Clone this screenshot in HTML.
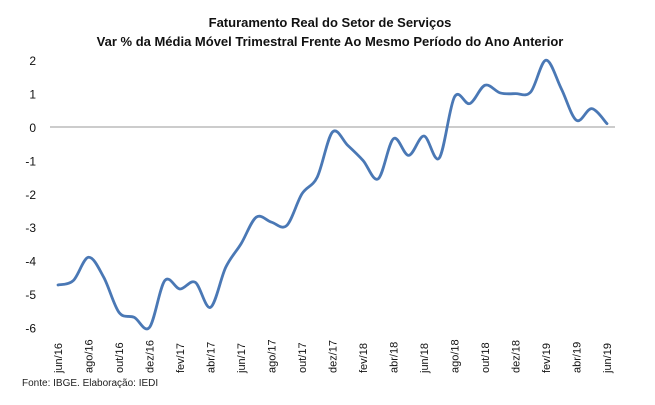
<!DOCTYPE html>
<html><head><meta charset="utf-8">
<style>
html,body{margin:0;padding:0;background:#fff;}
body{width:655px;height:400px;overflow:hidden;font-family:"Liberation Sans",sans-serif;}
</style></head>
<body>
<svg id="chart" width="655" height="400" xmlns="http://www.w3.org/2000/svg" font-family="Liberation Sans, sans-serif">
<text x="330" y="27" text-anchor="middle" font-size="13" font-weight="bold" fill="#111">Faturamento Real do Setor de Serviços</text>
<text x="330" y="46" text-anchor="middle" font-size="13" font-weight="bold" fill="#111">Var % da Média Móvel Trimestral Frente Ao Mesmo Período do Ano Anterior</text>
<text x="22" y="386" font-size="10" fill="#222">Fonte: IBGE. Elaboração: IEDI</text>
<g id="yaxis"></g>
<g id="xaxis"></g>
<g id="plot"></g>
</svg>
<script>
const categories = ["jun/16","jul/16","ago/16","set/16","out/16","nov/16","dez/16","jan/17","fev/17","mar/17","abr/17","mai/17","jun/17","jul/17","ago/17","set/17","out/17","nov/17","dez/17","jan/18","fev/18","mar/18","abr/18","mai/18","jun/18","jul/18","ago/18","set/18","out/18","nov/18","dez/18","jan/19","fev/19","mar/19","abr/19","mai/19","jun/19"];
const values = [-4.73,-4.6,-3.9,-4.5,-5.55,-5.7,-6.0,-4.6,-4.85,-4.65,-5.4,-4.2,-3.5,-2.7,-2.85,-2.95,-2.0,-1.5,-0.15,-0.55,-1.0,-1.55,-0.35,-0.85,-0.27,-0.93,0.9,0.7,1.25,1.02,1.0,1.05,2.0,1.15,0.2,0.55,0.1];
const yTicks = [2,1,0,-1,-2,-3,-4,-5,-6];

const NS="http://www.w3.org/2000/svg";
const x0=58, x1=607, yZero=127, yUnit=33.4;
function xScale(i){return x0+(x1-x0)*i/(categories.length-1);}
function yScale(v){return yZero-v*yUnit;}
const yaxis=document.getElementById('yaxis'), xaxis=document.getElementById('xaxis'), plot=document.getElementById('plot');

yTicks.forEach(t=>{
  const tx=document.createElementNS(NS,'text');
  
  
  tx.setAttribute('x',36);tx.setAttribute('y',yScale(t)+5);
  tx.setAttribute('text-anchor','end');tx.setAttribute('font-size','12');tx.setAttribute('fill','#111');
  tx.textContent=t;yaxis.appendChild(tx);
});
const zl=document.createElementNS(NS,'line');


zl.setAttribute('x1',50);zl.setAttribute('x2',615);zl.setAttribute('y1',yScale(0));zl.setAttribute('y2',yScale(0));
zl.setAttribute('stroke','#999');zl.setAttribute('stroke-width','1');
plot.appendChild(zl);

categories.forEach((c,i)=>{
  if(i%2) return;
  const tx=document.createElementNS(NS,'text');
  
  
  const x=xScale(i)+4;
  tx.setAttribute('x',x);tx.setAttribute('y',373);
  tx.setAttribute('transform','rotate(-90 '+x+' 373)');
  tx.setAttribute('font-size','11');tx.setAttribute('fill','#111');
  tx.textContent=c;xaxis.appendChild(tx);
});

const pts=values.map((v,i)=>[xScale(i),yScale(v)]);
let d='M'+pts[0][0]+','+pts[0][1];
for(let i=0;i<pts.length-1;i++){
  const p0=pts[Math.max(0,i-1)],p1=pts[i],p2=pts[i+1],p3=pts[Math.min(pts.length-1,i+2)];
  const c1=[p1[0]+(p2[0]-p0[0])/6,p1[1]+(p2[1]-p0[1])/6];
  const c2=[p2[0]-(p3[0]-p1[0])/6,p2[1]-(p3[1]-p1[1])/6];
  d+=' C'+c1[0]+','+c1[1]+' '+c2[0]+','+c2[1]+' '+p2[0]+','+p2[1];
}
const path=document.createElementNS(NS,'path');


path.setAttribute('d',d);path.setAttribute('fill','none');
path.setAttribute('stroke','#4a78b5');path.setAttribute('stroke-width','2.8');
path.setAttribute('stroke-linejoin','round');path.setAttribute('stroke-linecap','round');
plot.appendChild(path);
</script>
</body></html>
